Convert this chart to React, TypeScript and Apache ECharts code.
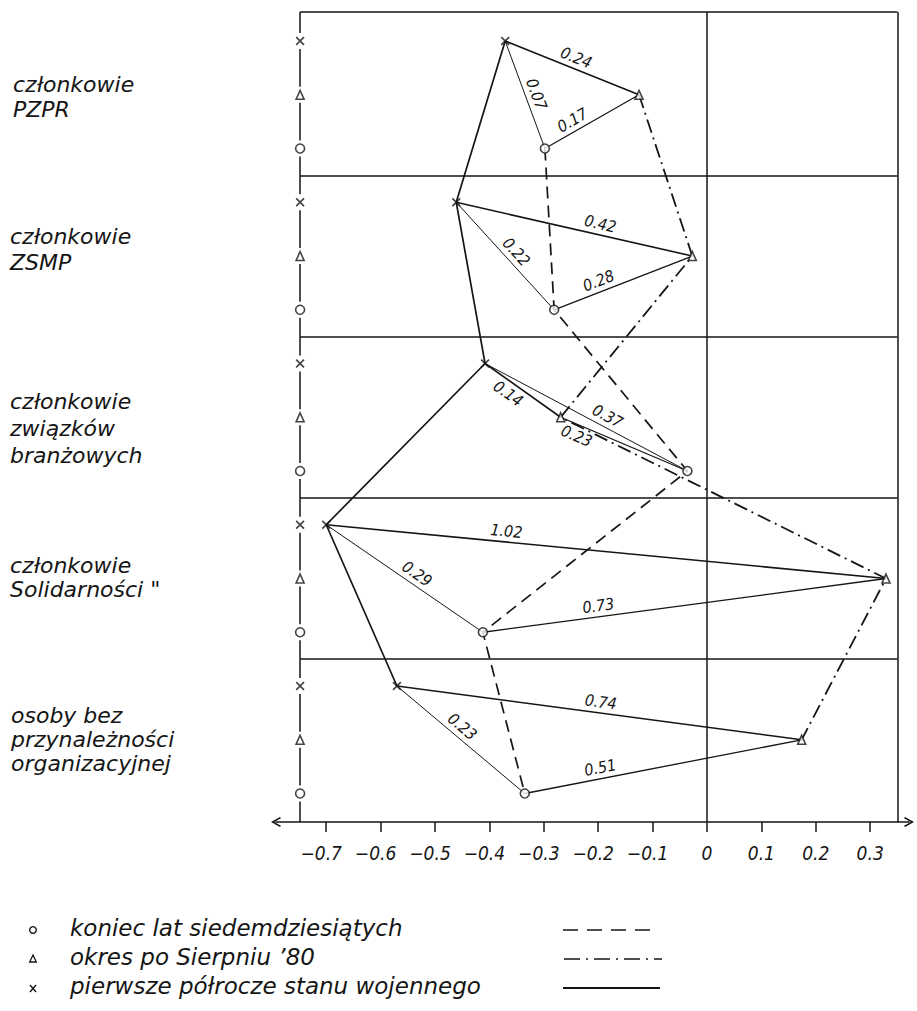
import React, { useEffect, useRef } from "react";
import * as echarts from "echarts";

// ---------------- data ----------------
const groupNames: string[][] = [
  ["członkowie", "PZPR"],
  ["członkowie", "ZSMP"],
  ["członkowie", "związków", "branżowych"],
  ["członkowie", "Solidarności \""],
  ["osoby bez", "przynależności", "organizacyjnej"],
];
// position on the scale for each group (o, Δ, x)
const endOf70s = [-0.298, -0.281, -0.036, -0.412, -0.335]; // o
const afterAug80 = [-0.125, -0.027, -0.269, 0.329, 0.174]; // Δ
const martialLaw = [-0.371, -0.461, -0.408, -0.7, -0.57]; // x
// distances written on the triangles
const distCrossTriangle = ["0.24", "0.42", "0.14", "1.02", "0.74"];
const distCrossCircle = ["0.07", "0.22", "0.37", "0.29", "0.23"];
const distCircleTriangle = ["0.17", "0.28", "0.23", "0.73", "0.51"];
const tickValues = [-0.7, -0.6, -0.5, -0.4, -0.3, -0.2, -0.1, 0, 0.1, 0.2, 0.3];
const tickLabels = ["−0.7", "−0.6", "−0.5", "−0.4", "−0.3", "−0.2", "−0.1", "0", "0.1", "0.2", "0.3"];
const legendLabels = [
  "koniec lat siedemdziesiątych",
  "okres po Sierpniu ’80",
  "pierwsze półrocze stanu wojennego",
];

// ---------------- layout / style ----------------
const INK = "#151515";
const FONT_C = '"DejaVu Sans Condensed", "DejaVu Sans", sans-serif';
const FONT = '"DejaVu Sans", sans-serif';
const X_MIN = -0.7923;
const X_MAX = 0.3713;
const FRAME_L = -0.748;
const FRAME_R = 0.35;
const Y_MIN = -0.54;
const Y_MAX = 14.53;
const BANDS = [2.5, 5.5, 8.5, 11.5];
const GAP = 0.15;
// label placement along segments (fraction from left end) and side
const FRAC_XD = [0.5, 0.6, 0.39, 0.32, 0.5];
const FRAC_XO = [0.53, 0.53, 0.58, 0.54, 0.455];
const FRAC_OD = [0.35, 0.35, 0.16, 0.29, 0.28];
const SIDE_XD = ["top", "top", "bottom", "top", "top"];
const SIDE_OD = ["top", "top", "bottom", "top", "top"];
const NAME_Y = [96.5, 249, 428, 577, 739];
const NAME_LH = [25, 26, 27, 24, 24];
const NAME_X = [13, 10, 10, 10, 11];
const LEGEND_Y = [928, 957, 986];

const X_PATH =
  "path://M0,1.3L1.3,0L5,3.7L8.7,0L10,1.3L6.3,5L10,8.7L8.7,10L5,6.3L1.3,10L0,8.7L3.7,5Z";
const CHEVRON = "path://M5,0L10,9L8.7,10L5,3.2L1.3,10L0,9Z";

function buildOption() {
  const pts = groupNames.map((_, g) => ({
    x: [martialLaw[g], 3 * g],
    d: [afterAug80[g], 3 * g + 1],
    o: [endOf70s[g], 3 * g + 2],
  }));

  const segs: any[] = [];
  const labelSegs: any[] = [];
  pts.forEach((p, g) => {
    const trip = [
      { a: p.x, b: p.d, text: distCrossTriangle[g], w: 1.6, frac: FRAC_XD[g], side: SIDE_XD[g] },
      { a: p.x, b: p.o, text: distCrossCircle[g], w: 1.0, frac: FRAC_XO[g], side: "top" },
      { a: p.o, b: p.d, text: distCircleTriangle[g], w: 1.3, frac: FRAC_OD[g], side: SIDE_OD[g] },
    ];
    trip.forEach((s) => {
      const [L, R] = s.a[0] <= s.b[0] ? [s.a, s.b] : [s.b, s.a];
      segs.push([
        { coord: L, lineStyle: { width: s.w, type: "solid", color: INK } },
        { coord: R },
      ]);
      const lerp = (t: number) => [L[0] + (R[0] - L[0]) * t, L[1] + (R[1] - L[1]) * t];
      labelSegs.push([
        {
          coord: lerp(s.frac - 0.04),
          lineStyle: { color: "rgba(0,0,0,0)", width: 1, type: "solid" },
          label: {
            show: true,
            formatter: s.text,
            position: s.side === "top" ? "insideMiddleTop" : "insideMiddleBottom",
            distance: 3,
            color: INK,
            fontSize: 16,
            fontStyle: "italic",
            fontFamily: FONT_C,
          },
        },
        { coord: lerp(s.frac + 0.04) },
      ]);
    });
  });

  const frameLines: any[] = [
    [{ coord: [FRAME_L, Y_MIN] }, { coord: [FRAME_R, Y_MIN] }],
    ...BANDS.map((b) => [{ coord: [FRAME_L, b] }, { coord: [FRAME_R, b] }]),
    [{ coord: [FRAME_R, Y_MIN] }, { coord: [FRAME_R, Y_MAX] }],
    [{ coord: [0, Y_MIN] }, { coord: [0, Y_MAX] }],
    [{ coord: [FRAME_L, Y_MIN] }, { coord: [FRAME_L, -GAP] }],
  ];
  for (let i = 0; i < 14; i++) {
    frameLines.push([{ coord: [FRAME_L, i + GAP] }, { coord: [FRAME_L, i + 1 - GAP] }]);
  }
  frameLines.push([{ coord: [FRAME_L, 14 + GAP] }, { coord: [FRAME_L, Y_MAX] }]);

  const circleStyle = { color: "#fff", borderColor: INK, borderWidth: 1.6 };

  const graphic: any[] = [];
  groupNames.forEach((lines, g) => {
    graphic.push({
      type: "text",
      x: NAME_X[g],
      y: NAME_Y[g],
      style: {
        text: lines.join("\n"),
        font: `italic 22px ${FONT}`,
        fill: INK,
        lineHeight: NAME_LH[g],
        verticalAlign: "middle",
        align: "left",
      },
    });
  });
  legendLabels.forEach((t, i) => {
    graphic.push({
      type: "text",
      x: 70,
      y: LEGEND_Y[i],
      style: { text: t, font: `italic 23px ${FONT}`, fill: INK, verticalAlign: "middle", align: "left" },
    });
  });
  graphic.push(
    { type: "circle", shape: { cx: 33, cy: 930, r: 3.3 }, style: { fill: "#fff", stroke: INK, lineWidth: 1.4 } },
    {
      type: "polygon",
      shape: { points: [[33, 955], [29.7, 962], [36.3, 962]] },
      style: { fill: "#fff", stroke: INK, lineWidth: 1.3 },
    },
    { type: "line", shape: { x1: 30, y1: 985, x2: 36, y2: 992 }, style: { stroke: INK, lineWidth: 1.4 } },
    { type: "line", shape: { x1: 36, y1: 985, x2: 30, y2: 992 }, style: { stroke: INK, lineWidth: 1.4 } },
    {
      type: "line",
      shape: { x1: 563, y1: 930, x2: 658, y2: 930 },
      style: { stroke: INK, lineWidth: 1.7, lineDash: [15, 9] },
    },
    {
      type: "line",
      shape: { x1: 564, y1: 959, x2: 662, y2: 959 },
      style: { stroke: INK, lineWidth: 1.7, lineDash: [16, 6, 2, 6] },
    },
    {
      type: "line",
      shape: { x1: 563, y1: 988, x2: 660, y2: 988 },
      style: { stroke: INK, lineWidth: 2 },
    }
  );

  return {
    animation: false,
    backgroundColor: "#fff",
    grid: { left: 276, right: 8, top: 12, bottom: 189, containLabel: false },
    xAxis: {
      type: "value",
      min: X_MIN,
      max: X_MAX,
      splitLine: { show: false },
      axisLine: {
        show: true,
        onZero: false,
        symbol: [CHEVRON, CHEVRON],
        symbolSize: [10, 10],
        lineStyle: { color: INK, width: 1.6 },
      },
      axisTick: {
        show: true,
        customValues: tickValues,
        length: 10,
        lineStyle: { color: INK, width: 1.5 },
      },
      axisLabel: {
        show: true,
        customValues: tickValues,
        margin: 21,
        formatter: (v: number) => {
          const i = tickValues.findIndex((t) => Math.abs(t - v) < 1e-9);
          const s = i >= 0 ? tickLabels[i] : "";
          return v < 0 ? `{t|${s}}{s| }` : `{t|${s}}`;
        },
        rich: {
          t: { fontSize: 19, fontStyle: "italic", fontFamily: FONT_C, color: INK },
          s: { width: 10, fontSize: 19 },
        },
      },
    },
    yAxis: {
      type: "value",
      inverse: true,
      min: Y_MIN,
      max: Y_MAX,
      show: false,
    },
    graphic,
    series: [
      {
        type: "line",
        data: [],
        clip: false,
        silent: true,
        z: 1,
        markLine: {
          silent: true,
          symbol: ["none", "none"],
          label: { show: false },
          lineStyle: { color: INK, width: 1.5, type: "solid" },
          data: frameLines,
        },
      },
      {
        name: "x-chain",
        type: "line",
        data: martialLaw.map((v, g) => [v, 3 * g]),
        symbol: "none",
        clip: false,
        z: 2,
        lineStyle: { color: INK, width: 1.7, type: "solid" },
      },
      {
        name: "o-chain",
        type: "line",
        data: endOf70s.map((v, g) => [v, 3 * g + 2]),
        symbol: "none",
        clip: false,
        z: 2,
        lineStyle: { color: INK, width: 1.7, type: [12, 7] },
      },
      {
        name: "d-chain",
        type: "line",
        data: afterAug80.map((v, g) => [v, 3 * g + 1]),
        symbol: "none",
        clip: false,
        z: 2,
        lineStyle: { color: INK, width: 1.8, type: [14, 5, 2, 5] },
      },
      {
        type: "line",
        data: [],
        clip: false,
        silent: true,
        z: 3,
        markLine: {
          silent: true,
          symbol: ["none", "none"],
          label: { show: false },
          data: segs,
        },
      },
      {
        type: "line",
        data: [],
        clip: false,
        silent: true,
        z: 4,
        markLine: {
          silent: true,
          symbol: ["none", "none"],
          lineStyle: { color: "rgba(0,0,0,0)", width: 1 },
          label: {
            show: true,
            color: INK,
            fontSize: 16,
            fontStyle: "italic",
            fontFamily: FONT_C,
          },
          data: labelSegs,
        },
      },
      {
        name: "x",
        type: "scatter",
        z: 5,
        symbol: X_PATH,
        symbolSize: 9,
        itemStyle: { color: INK },
        data: [
          ...martialLaw.map((v, g) => [v, 3 * g]),
          ...groupNames.map((_, g) => [FRAME_L, 3 * g]),
        ],
      },
      {
        name: "d",
        type: "scatter",
        z: 5,
        symbol: "triangle",
        symbolSize: [8, 9],
        itemStyle: circleStyle,
        data: [
          ...afterAug80.map((v, g) => [v, 3 * g + 1]),
          ...groupNames.map((_, g) => [FRAME_L, 3 * g + 1]),
        ],
      },
      {
        name: "o",
        type: "scatter",
        z: 5,
        symbol: "circle",
        symbolSize: 9,
        itemStyle: circleStyle,
        data: [
          ...endOf70s.map((v, g) => [v, 3 * g + 2]),
          ...groupNames.map((_, g) => [FRAME_L, 3 * g + 2]),
        ],
      },
    ],
  };
}

export default function App() {
  const ref = useRef<HTMLDivElement>(null);
  useEffect(() => {
    document.body.style.margin = "0";
    const chart = echarts.init(ref.current!, undefined, { renderer: "svg" });
    chart.setOption(buildOption() as any);
    return () => chart.dispose();
  }, []);
  return (
    <div
      ref={ref}
      style={{ position: "absolute", left: 0, top: 0, width: 917, height: 1011, background: "#fff" }}
    />
  );
}
